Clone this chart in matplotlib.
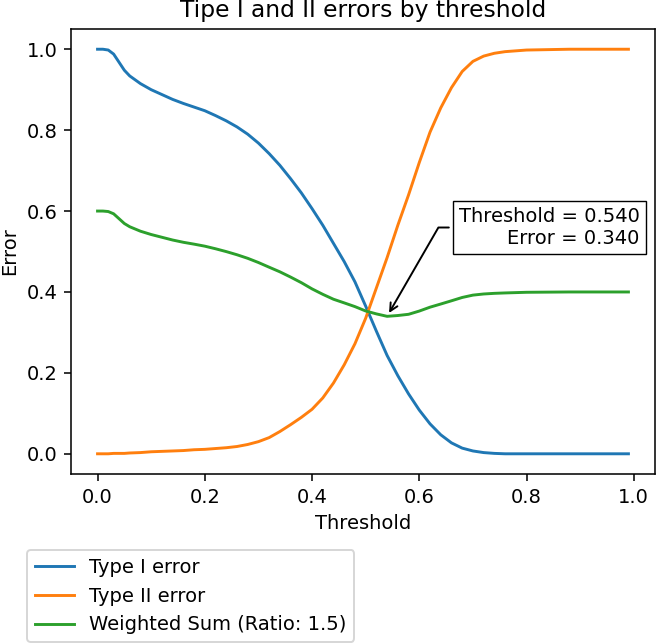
import matplotlib
matplotlib.use("Agg")
import matplotlib.pyplot as plt
import numpy as np

# values
thresholds = [0.00, 0.01, 0.02, 0.03, 0.04, 0.05, 0.06, 0.08, 0.10, 0.12, 0.14, 0.16, 0.18,
              0.20, 0.22, 0.24, 0.26, 0.28, 0.30, 0.32, 0.34, 0.36, 0.38, 0.40, 0.42, 0.44,
              0.46, 0.48, 0.50, 0.52, 0.54, 0.56, 0.58, 0.60, 0.62, 0.64, 0.66, 0.68, 0.70,
              0.72, 0.74, 0.76, 0.78, 0.80, 0.84, 0.88, 0.92, 0.96, 0.99]
type1_error = [1.000, 1.000, 0.998, 0.988, 0.968, 0.948, 0.934, 0.915, 0.900, 0.888, 0.876,
               0.866, 0.857, 0.848, 0.836, 0.823, 0.808, 0.790, 0.768, 0.742, 0.713, 0.680,
               0.645, 0.606, 0.565, 0.520, 0.475, 0.425, 0.365, 0.303, 0.243, 0.193, 0.148,
               0.108, 0.074, 0.047, 0.027, 0.014, 0.007, 0.003, 0.001, 0.000, 0.000, 0.000,
               0.000, 0.000, 0.000, 0.000, 0.000]
type2_error = [0.000, 0.000, 0.000, 0.001, 0.001, 0.001, 0.002, 0.003, 0.005, 0.006, 0.007,
               0.008, 0.010, 0.011, 0.013, 0.015, 0.018, 0.023, 0.030, 0.040, 0.055, 0.072,
               0.090, 0.110, 0.138, 0.175, 0.220, 0.272, 0.335, 0.410, 0.485, 0.565, 0.640,
               0.720, 0.795, 0.855, 0.905, 0.945, 0.970, 0.983, 0.990, 0.994, 0.996, 0.998,
               0.999, 1.000, 1.000, 1.000, 1.000]
ratio = 1.5

t = np.array(thresholds)
e1 = np.array(type1_error)
e2 = np.array(type2_error)
w1 = ratio / (1 + ratio)
weighted = w1 * e1 + (1 - w1) * e2
best = np.argmin(weighted)

fig = plt.figure(figsize=(658 / 140, 643 / 140), dpi=140)
ax = fig.add_axes([0.1079, 0.2628, 0.8875, 0.6921])

ax.plot(t, e1, label="Type I error")
ax.plot(t, e2, label="Type II error")
ax.plot(t, weighted, label=f"Weighted Sum (Ratio: {ratio})")

ax.set_title("Tipe I and II errors by threshold")
ax.set_xlabel("Threshold")
ax.set_ylabel("Error")

bbox_props = dict(boxstyle="square,pad=0.3", fc="w", ec="k", lw=0.72)
arrowprops = dict(arrowstyle="->", color="k", connectionstyle="angle,angleA=0,angleB=60")
ax.annotate(f"Threshold = {t[best]:.3f}\nError = {weighted[best]:.3f}",
            xy=(t[best], weighted[best]), xycoords="data",
            xytext=(0.974, 0.600), textcoords="axes fraction",
            ha="right", va="top", bbox=bbox_props, arrowprops=arrowprops)

ax.legend(loc="upper left", bbox_to_anchor=(-0.0753, -0.171), borderaxespad=0)

fig.savefig("out.png", dpi=140)
